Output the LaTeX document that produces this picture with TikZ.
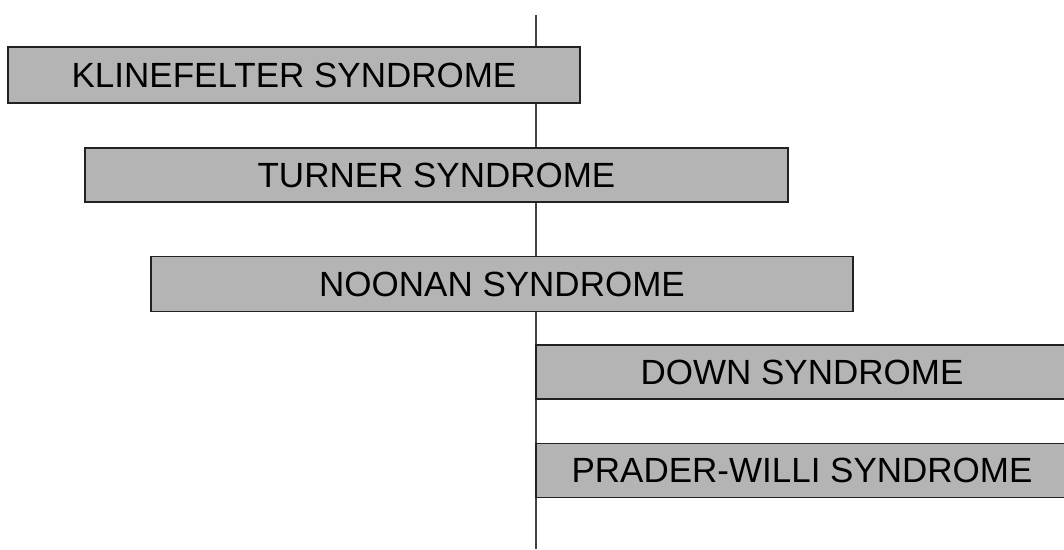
\documentclass[tikz,border=0pt]{standalone}
\usepackage{fontspec}
\setmainfont{Liberation Sans}
\usetikzlibrary{positioning}

\definecolor{barfill}{RGB}{180,180,180}
\definecolor{barline}{RGB}{34,34,34}

\tikzset{
  bar/.style={draw=barline, line width=1.8pt, fill=barfill, inner sep=0pt,
    font=\fontsize{35}{40}\selectfont, text=black},
  axis/.style={draw=barline!85, line width=2pt}
}

\begin{document}
\begin{tikzpicture}[x=1pt, y=-1pt]
    \clip (0,0) rectangle (1064,549);
    \fill[white] (0,0) rectangle (1064,549);

    % dividing line, drawn first so the bars hide it
    \coordinate (top) at (536,15);
    \coordinate (bottom) at (536,549);
    \draw[axis] (top) -- (bottom);

    \node[bar, minimum width=572pt, minimum height=56pt] (kline) at (294,75) {KLINEFELTER SYNDROME};
    \node[bar, minimum width=703pt, minimum height=54pt] (turner) at (436.5,175) {TURNER SYNDROME};
    \node[bar, minimum width=702pt, minimum height=55pt] (noonan) at (502,284) {NOONAN SYNDROME};
    \node[bar, minimum width=532pt, minimum height=54pt] (down) at (802,372) {DOWN SYNDROME};
    \node[bar, minimum width=532pt, minimum height=54pt] (prader) at (802,470.5) {PRADER-WILLI SYNDROME};
  \end{tikzpicture}
\end{document}
